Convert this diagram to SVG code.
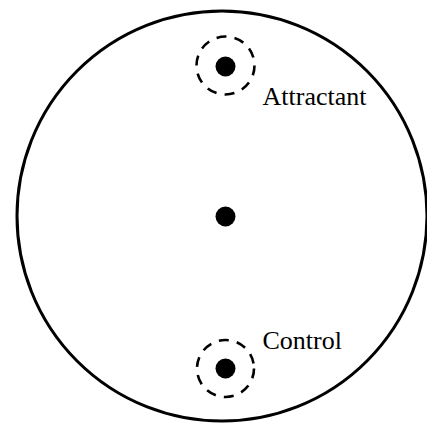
<svg xmlns="http://www.w3.org/2000/svg" width="427" height="424" viewBox="0 0 427 424">
<style>
.dish{fill:none;stroke:#000;stroke-width:3}
.ring{fill:none;stroke:#000;stroke-width:2.6;stroke-dasharray:10 8.2}
.dot{fill:#000}
.lbl{font-family:"Liberation Serif","Times New Roman",serif;font-size:26px;fill:#000}
</style>
<rect width="427" height="424" fill="#fff"/>
<g id="dish"><circle class="dish" cx="222" cy="216" r="205"/></g>
<g id="attractant">
<circle class="ring" cx="225.5" cy="65.5" r="29"/>
<circle class="dot" cx="225.5" cy="66.5" r="10"/>
<text class="lbl" x="262.5" y="104.5">Attractant</text>
</g>
<g id="center"><circle class="dot" cx="225.5" cy="216.5" r="10"/></g>
<g id="control">
<circle class="ring" cx="225.5" cy="368.5" r="28.5"/>
<circle class="dot" cx="225.5" cy="368.5" r="10"/>
<text class="lbl" x="262.5" y="349">Control</text>
</g>
<g id="connectors"/>
</svg>
